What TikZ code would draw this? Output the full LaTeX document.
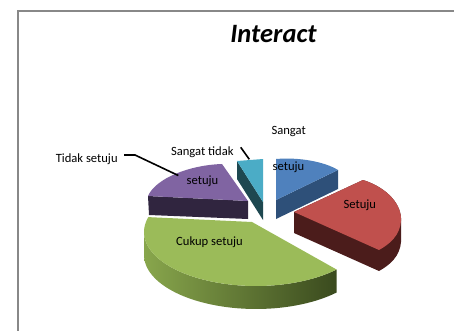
\documentclass[tikz,border=0pt]{standalone}
\usepackage{fontspec}
\setmainfont{Carlito}
\definecolor{blueTop}{HTML}{4F81BD}
\definecolor{blueDark}{HTML}{2E5079}
\definecolor{redTop}{HTML}{C0504D}
\definecolor{redDark}{HTML}{4B1C1B}
\definecolor{greenTop}{HTML}{9BBB59}
\definecolor{greenL}{HTML}{88A64C}
\definecolor{greenM}{HTML}{65823A}
\definecolor{greenR}{HTML}{3A4A1E}
\definecolor{purpleTop}{HTML}{8064A2}
\definecolor{purpleDark}{HTML}{30253F}
\definecolor{cyanTop}{HTML}{4BACC6}
\definecolor{cyanDark}{HTML}{1E4850}
\definecolor{frameGray}{HTML}{888888}
\begin{document}
\begin{tikzpicture}[x=1pt,y=-1pt,
  lbl/.style={font=\fontsize{12.6}{15}\selectfont, inner sep=0pt, anchor=base},
  leader/.style={draw=black, line width=1.6pt}]
\useasboundingbox (0,0) rectangle (454,331);
\fill[white] (0,0) rectangle (454,331);
% frame
\draw[frameGray, line width=1.5pt] (18,332) -- (18,11) -- (455,11);

% ---- purple (Tidak setuju)
\fill[purpleDark] (248,201) -- (148,196) -- (149,215) -- (248,219) -- cycle;
\fill[purpleTop] (248,201) -- (148,196) .. controls (156,178) and (190,165) .. (222,164) -- cycle;

% ---- cyan (Sangat tidak setuju)
\fill[cyanDark] (237,161) -- (263,202) -- (263,220) -- (237,179) -- cycle;
\fill[cyanTop] (237,161) -- (263,159) -- (263,202) -- cycle;

% ---- blue (Sangat setuju)
\fill[blueDark] (276,200) -- (338,170) -- (338,189) -- (276,219) -- cycle;
\fill[blueTop] (276,200) -- (276,159) .. controls (300,157) and (325,162) .. (338,170) -- cycle;

% ---- red (Setuju)
\fill[redDark] (294,212) -- (363,180) .. controls (388,188) and (402,205) .. (401,221)
   -- (401,242) .. controls (400,256) and (390,265) .. (379,271) -- (294,233) -- cycle;
\fill[redTop] (294,212) -- (363,180) .. controls (388,188) and (402,205) .. (401,221)
   .. controls (400,235) and (390,244) .. (379,250) -- cycle;

% ---- green (Cukup setuju)
\shade[left color=greenL, middle color=greenM, right color=greenR]
   plot[domain=180:44, samples=50] ({256+112*cos(\x)},{232+54*sin(\x)})
   -- plot[domain=44:180, samples=50] ({256+112*cos(\x)},{255+54*sin(\x)}) -- cycle;
\fill[greenTop] (252,222) -- (148.3,217.1)
   -- plot[domain=196:44, samples=60] ({256+112*cos(\x)},{232+54*sin(\x)}) -- cycle;

% ---- title
\node[font=\fontsize{26.5}{30}\selectfont\bfseries\itshape, inner sep=0pt, anchor=base] (title) at (273.5,42.3) {Interact};

% ---- labels
\node[lbl] (ssA) at (288.7,135) {Sangat};
\node[lbl] (ssB) at (288.5,170) {setuju};
\node[lbl] (stA) at (202.3,155) {Sangat tidak};
\node[lbl] (stB) at (202.5,184.5) {setuju};
\node[lbl] (ts) at (86.7,162) {Tidak setuju};
\node[lbl] (s) at (359.8,208) {Setuju};
\node[lbl] (cs) at (209.5,245) {Cukup setuju};

% ---- leader lines
\coordinate (tk0) at (124,155);
\coordinate (tk1) at (135,155);
\coordinate (tk2) at (178.3,175.5);
\draw[leader] (tk0) -- (tk1) -- (tk2);
\coordinate (st0) at (240.7,147.3);
\coordinate (st1) at (249.3,159.3);
\draw[leader] (st0) -- (st1);
\end{tikzpicture}
\end{document}
